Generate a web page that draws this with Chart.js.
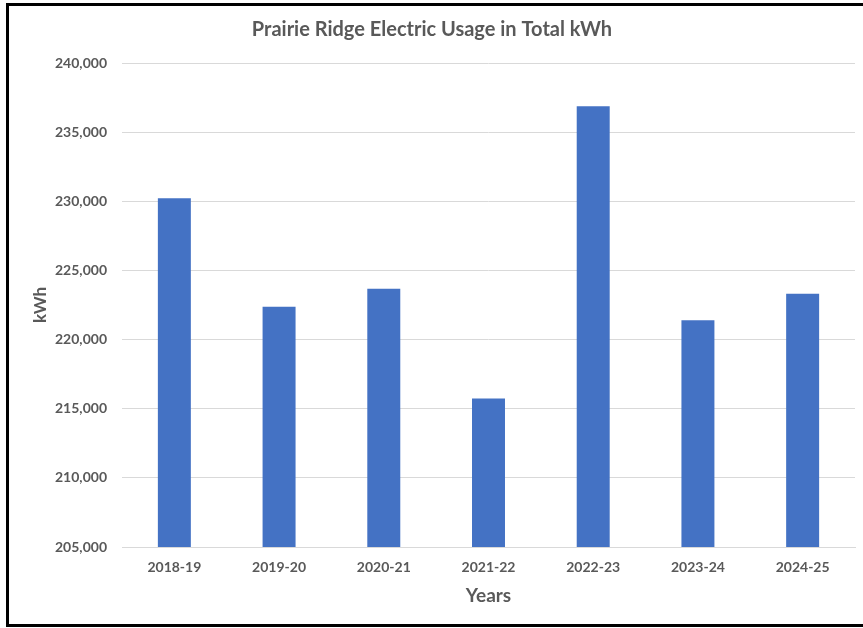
<!DOCTYPE html>
<html>
<head>
<meta charset="utf-8">
<script src="https://cdn.jsdelivr.net/npm/chart.js@4"></script>
<style>
  html, body { margin: 0; padding: 0; background: #fff; }
  body { width: 863px; height: 628px; overflow: hidden; position: relative; }
  .frame {
    position: absolute; left: 6px; top: 3px;
    width: 857px; height: 618px;
    border-left: 3px solid #000; border-top: 3px solid #000; border-bottom: 3px solid #000;
  }
  .frame canvas { display: block; }
</style>
</head>
<body>
<div class="frame"><canvas id="chart" width="854" height="618"></canvas></div>
<script>
const years = ['2018-19', '2019-20', '2020-21', '2021-22', '2022-23', '2023-24', '2024-25'];
const usageKwh = [230220, 222370, 223670, 215740, 236880, 221400, 223310];
const yMin = 205000;
const yMax = 240000;
const yStep = 5000;

const grey = '#595959';
const font = 'Lato, "Open Sans", sans-serif';

new Chart(document.getElementById('chart'), {
  type: 'bar',
  data: {
    labels: years,
    datasets: [{
      label: 'kWh',
      data: usageKwh,
      backgroundColor: '#4472C4',
      categoryPercentage: 1,
      barPercentage: 0.315
    }]
  },
  options: {
    responsive: false,
    animation: false,
    layout: { padding: { left: 0, right: 8, top: 0, bottom: 0 } },
    plugins: {
      legend: { display: false },
      tooltip: { enabled: false },
      title: {
        display: true,
        text: 'Prairie Ridge Electric Usage in Total kWh',
        color: grey,
        font: { family: font, size: 20, weight: 'bold' },
        padding: { top: 12, bottom: 21 }
      }
    },
    scales: {
      x: {
        afterFit(scale) { scale.height = 77; },
        grid: { display: false, drawTicks: false },
        border: { display: true, color: '#d9d9d9', width: 1 },
        ticks: { color: grey, font: { family: font, size: 14, weight: 'bold' }, padding: 12 },
        title: {
          display: true, text: 'Years', color: grey,
          font: { family: font, size: 19, weight: 'bold' },
          padding: { top: 0, bottom: 17 }
        }
      },
      y: {
        min: yMin,
        max: yMax,
        afterFit(scale) { scale.width = 113; },
        grid: { color: '#d9d9d9', drawTicks: false, tickLength: 0 },
        border: { display: false },
        ticks: {
          stepSize: yStep,
          color: grey,
          font: { family: font, size: 14, weight: 'bold' },
          padding: 15,
          callback: v => v.toLocaleString('en-US')
        },
        title: {
          display: true, text: 'kWh', color: grey,
          font: { family: font, size: 17, weight: 'bold' },
          padding: { top: 21, bottom: 0 }
        }
      }
    }
  }
});
</script>
</body>
</html>
